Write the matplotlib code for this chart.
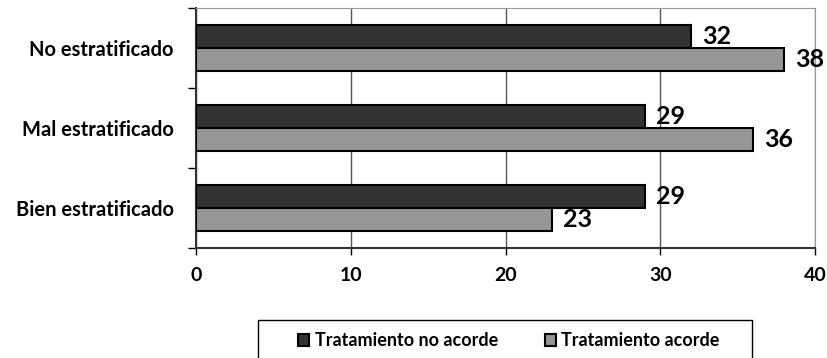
import numpy as np
import matplotlib.pyplot as plt
from matplotlib.patches import Rectangle

# categories from bottom to top
categorias = ["Bien estratificado", "Mal estratificado", "No estratificado"]
no_acorde = [29, 29, 32]
acorde = [23, 36, 38]
series = ["Tratamiento no acorde", "Tratamiento acorde"]

plt.rcParams['font.family'] = ['Lato', 'DejaVu Sans']
plt.rcParams['font.weight'] = 'bold'

fig = plt.figure(figsize=(8.27, 3.58), dpi=100)
ax = fig.add_axes([196/827, 1 - 248/358, (815 - 196)/827, 240/358])

y = np.arange(len(categorias))
h = 0.29
b1 = ax.barh(y + h/2, no_acorde, height=h, color="#333333", edgecolor="black", linewidth=1.5, label=series[0], zorder=3)
b2 = ax.barh(y - h/2, acorde, height=h, color="#969696", edgecolor="black", linewidth=1.5, label=series[1], zorder=3)

# value labels
for bars in (b1, b2):
    for rect in bars:
        w = rect.get_width()
        ax.annotate(str(int(w)), (w, rect.get_y() + rect.get_height()/2),
                    xytext=(8, 0), textcoords="offset points",
                    va="center", ha="left", fontsize=18, fontweight="bold")

ax.set_xlim(0, 40)
ax.set_ylim(-0.5, 2.5)
ax.set_xticks([0, 10, 20, 30, 40])
ax.set_yticks([-0.5, 0.5, 1.5, 2.5])
ax.set_yticklabels([])
ax.set_yticks(y, minor=True)
ax.set_yticklabels(categorias, minor=True, fontsize=14.5, fontweight="bold")
ax.tick_params(axis="y", which="minor", length=0, pad=16)
ax.tick_params(axis="y", which="major", length=6, width=1, direction="out")
ax.tick_params(axis="x", length=5, width=1, direction="out", labelsize=14, pad=9)
for lab in ax.get_xticklabels():
    lab.set_fontweight("bold")

ax.grid(axis="x", color="#555555", linewidth=1, zorder=0)
ax.spines["left"].set_color("#333333")
ax.spines["left"].set_linewidth(1.5)
ax.spines["bottom"].set_color("#333333")
ax.spines["bottom"].set_linewidth(1.5)
ax.spines["top"].set_color("#999999")
ax.spines["right"].set_color("#999999")

# legend box that runs off the bottom edge
fig.patches.append(Rectangle((258/827, -10/358), (752 - 258)/827, 48/358,
                             transform=fig.transFigure, fill=False,
                             edgecolor="black", linewidth=1))
fig.legend(handles=[b1, b2], loc="center", bbox_to_anchor=(509/827, 1 - 341/358),
           ncol=2, frameon=False, handlelength=0.6, handleheight=0.6,
           handletextpad=0.3, columnspacing=2.6, prop={'weight': 'bold', 'size': 13})

plt.savefig("out.png", dpi=100)
